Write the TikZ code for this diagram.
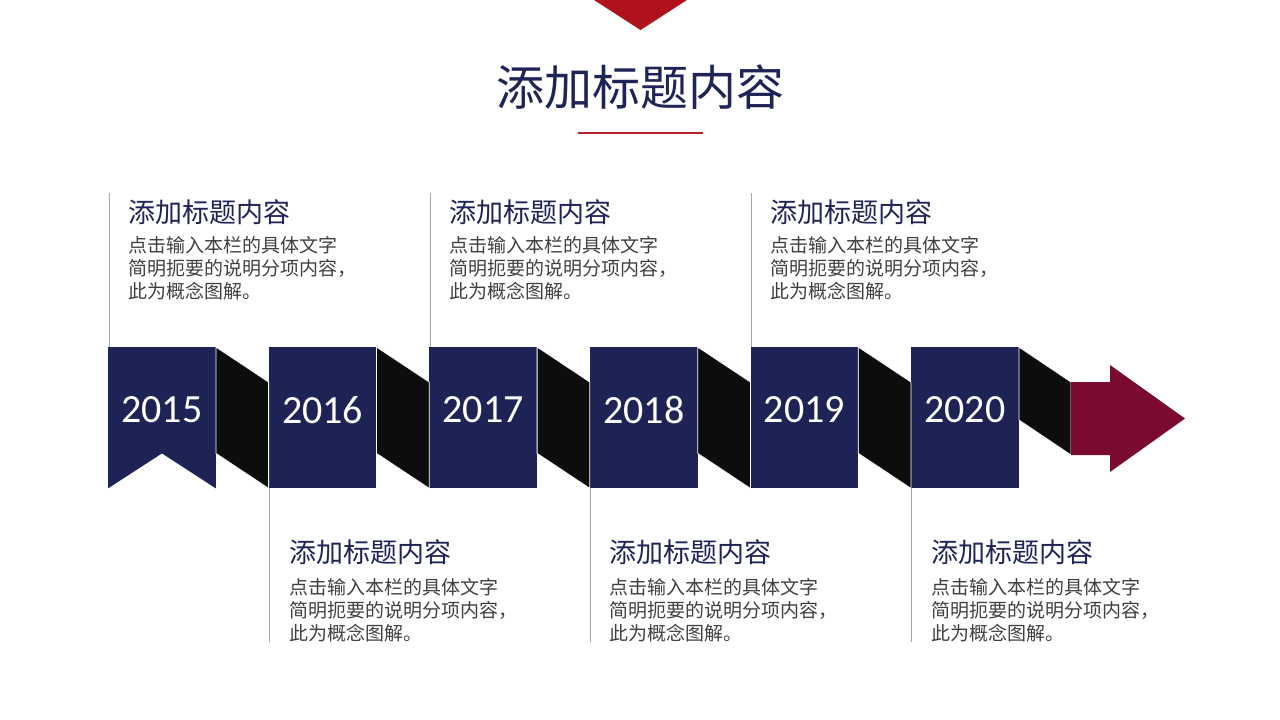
\documentclass[tikz,border=0pt]{standalone}
\usepackage{fontspec}
\newfontfamily\cjk{Noto Sans CJK SC}
\newfontfamily\numfont{Carlito}
\usetikzlibrary{calc}
\definecolor{navy}{HTML}{1D2355}
\definecolor{titlenavy}{HTML}{1F2456}
\definecolor{maroon}{HTML}{7A0A2E}
\definecolor{topred}{HTML}{B0121B}
\definecolor{linered}{HTML}{B8202A}
\definecolor{blk}{HTML}{0D0D0D}
\definecolor{guide}{HTML}{A6A6A6}
\definecolor{bodygray}{HTML}{404040}
\begin{document}
\begin{tikzpicture}[x=1pt,y=-1pt,
  yearbox/.style={rectangle,inner sep=0,minimum width=107.5pt,minimum height=141pt,anchor=north west,fill=navy},
  yeartext/.style={inner sep=0,text=white,font=\numfont\fontsize{40}{42}\selectfont},
  fold/.style={fill=blk,draw=white,line width=0.8pt},
  guideline/.style={draw=guide,line width=0.8pt},
  headtext/.style={anchor=west,inner sep=0,text=titlenavy,font=\cjk\fontsize{27}{30}\selectfont},
  bodytext/.style={anchor=north west,inner sep=0,align=left,text=bodygray,font=\cjk\fontsize{19}{23}\selectfont}]
\useasboundingbox[fill=white] (0,0) rectangle (1280,720);
% top triangle and title
\fill[topred] (594,0) -- (687,0) -- (640.5,30) -- cycle;
\node[inner sep=0,text=titlenavy,font=\cjk\fontsize{48}{52}\selectfont] (title) at (640,87) {添加标题内容};
\draw[linered,line width=1.2pt] (578,133) -- (703,133);
% blocks
\node[yearbox,fill=none] (b1) at (108,347) {};
\fill[navy] (b1.north west) -- (b1.north east) -- (b1.south east) -- ($(b1.south)+(0,-35)$) -- (b1.south west) -- cycle;
\node[yearbox] (b2) at (268.6,347) {};
\node[yearbox] (b3) at (429.2,347) {};
\node[yearbox] (b4) at (589.8,347) {};
\node[yearbox] (b5) at (750.4,347) {};
\node[yearbox] (b6) at (911,347) {};
\foreach \n/\yr in {1/2015,2/2016,3/2017,4/2018,5/2019,6/2020}{
  \node[yeartext] (y\n) at ($(b\n.north)+(0,63)$) {\yr};
}
% folds
\foreach \a/\b in {b1/b2,b2/b3,b3/b4,b4/b5,b5/b6}{
  \filldraw[fold] (\a.north east) -- ($(\b.north west)+(0,35)$) -- (\b.south west) -- ($(\a.south east)+(0,-35)$) -- cycle;
}
\coordinate (ab1) at (1071,382);
\coordinate (ab2) at (1071,455);
\filldraw[fold] (b6.north east) -- (ab1) -- (ab2) -- ($(b6.north east)+(0,73)$) -- cycle;
\fill[maroon] (ab1) -- (1110,382) -- (1110,365) -- (1185,418.5) -- (1110,472) -- (1110,455) -- (ab2) -- cycle;
% guide lines
\coordinate (t1) at (109,193);
\coordinate (t3) at (430,193);
\coordinate (t5) at (751,193);
\coordinate (u2) at (269,642);
\coordinate (u4) at (590.5,642);
\coordinate (u6) at (911.5,642);
\draw[guideline] (t1) -- (t1 |- b1.north);
\draw[guideline] (t3) -- (t3 |- b3.north);
\draw[guideline] (t5) -- (t5 |- b5.north);
\draw[guideline] (u2) -- (u2 |- b2.south);
\draw[guideline] (u4) -- (u4 |- b4.south);
\draw[guideline] (u6) -- (u6 |- b6.south);
% texts top
\foreach \n/\x in {1/128,3/449,5/770}{
  \node[headtext] (h\n) at (\x,212) {添加标题内容};
  \node[bodytext] (d\n) at (\x,236.5) {点击输入本栏的具体文字\\简明扼要的说明分项内容，\\此为概念图解。};
}
\foreach \n/\x in {2/289,4/609,6/931}{
  \node[headtext] (h\n) at (\x,552) {添加标题内容};
  \node[bodytext] (d\n) at (\x,578.5) {点击输入本栏的具体文字\\简明扼要的说明分项内容，\\此为概念图解。};
}
\end{tikzpicture}
\end{document}
